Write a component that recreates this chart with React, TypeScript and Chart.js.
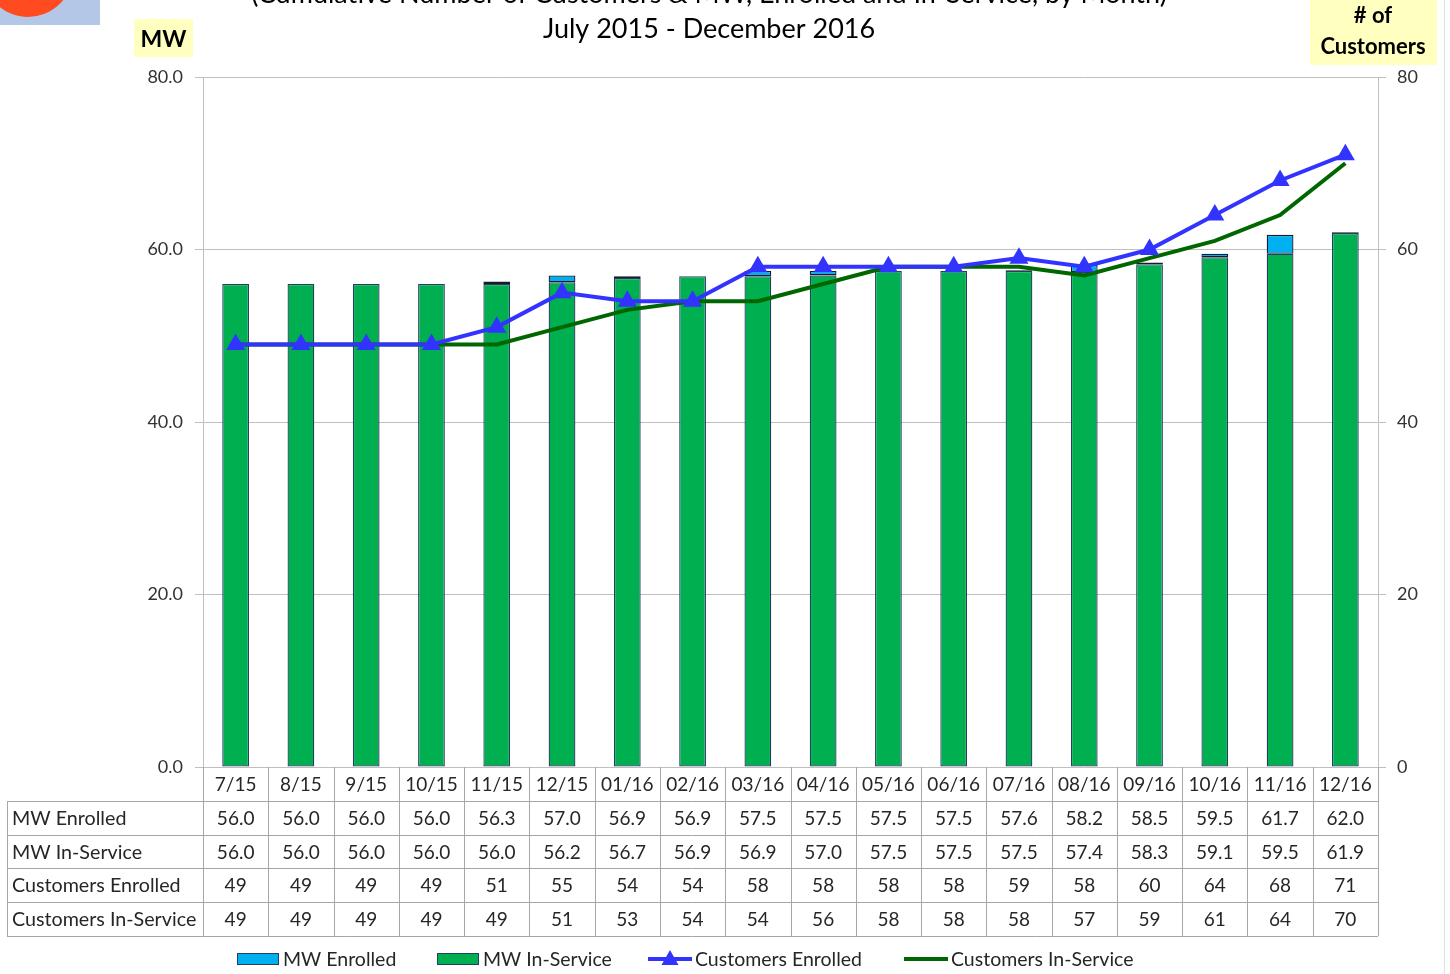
import React, { useEffect, useRef } from "react";
import { Chart, registerables } from "chart.js";

Chart.register(...registerables);

const categories = ["7/15", "8/15", "9/15", "10/15", "11/15", "12/15", "01/16", "02/16", "03/16", "04/16", "05/16", "06/16", "07/16", "08/16", "09/16", "10/16", "11/16", "12/16"];
const mwEnrolled = [56.0, 56.0, 56.0, 56.0, 56.3, 57.0, 56.9, 56.9, 57.5, 57.5, 57.5, 57.5, 57.6, 58.2, 58.5, 59.5, 61.7, 62.0];
const mwInService = [56.0, 56.0, 56.0, 56.0, 56.0, 56.2, 56.7, 56.9, 56.9, 57.0, 57.5, 57.5, 57.5, 57.4, 58.3, 59.1, 59.5, 61.9];
const customersEnrolled = [49, 49, 49, 49, 51, 55, 54, 54, 58, 58, 58, 58, 59, 58, 60, 64, 68, 71];
const customersInService = [49, 49, 49, 49, 49, 51, 53, 54, 54, 56, 58, 58, 58, 57, 59, 61, 64, 70];

const titleLine1 = "(Cumulative Number of Customers & MW, Enrolled and In-Service, by Month)";
const titleLine2 = "July 2015 - December 2016";
const leftAxisTitle = "MW";
const rightAxisTitle = ["# of", "Customers"];
const rowLabels = ["MW Enrolled", "MW In-Service", "Customers Enrolled", "Customers In-Service"];

const FONT = "Lato, 'Open Sans', sans-serif";
const CYAN = "#00B0F0";
const GREEN = "#00B050";
const BLUE = "#3333FF";
const DKGREEN = "#006600";
const BAR_BORDER = "#243F60";
const GRID = "#BFBFBF";
const TEXT = "#262626";

const decorPlugin = {
  id: "decor",
  afterDraw(chart: any) {
    const ctx = chart.ctx as CanvasRenderingContext2D;
    const x = chart.scales.x;
    const area = chart.chartArea;
    const n = categories.length;
    const colW = (area.right - area.left) / n;
    ctx.save();

    // top-left logo fragment
    ctx.fillStyle = "#B4C7E7";
    ctx.fillRect(0, 0, 100, 25);
    ctx.beginPath();
    ctx.fillStyle = "#FF4B1F";
    ctx.arc(28, -28, 45, 0, Math.PI * 2);
    ctx.fill();

    // right faint border
    ctx.strokeStyle = "#E0E0E0";
    ctx.lineWidth = 1;
    ctx.beginPath();
    ctx.moveTo(1444.5, 0);
    ctx.lineTo(1444.5, 974);
    ctx.stroke();

    // title
    ctx.fillStyle = "#000";
    ctx.textAlign = "center";
    ctx.textBaseline = "middle";
    ctx.font = `27px ${FONT}`;
    ctx.fillText(titleLine1, 709, -6);
    ctx.fillText(titleLine2, 709, 29);

    // MW box
    ctx.fillStyle = "#FFFFC0";
    ctx.fillRect(134, 19, 59, 38);
    ctx.fillStyle = "#000";
    ctx.font = `bold 23px ${FONT}`;
    ctx.fillText(leftAxisTitle, 163.5, 40);

    // # of Customers box
    ctx.fillStyle = "#FFFFC0";
    ctx.fillRect(1310, 0, 127, 65);
    ctx.fillStyle = "#000";
    ctx.font = `bold 22px ${FONT}`;
    ctx.fillText(rightAxisTitle[0], 1373, 16);
    ctx.fillText(rightAxisTitle[1], 1373, 47);

    // data table
    const tableLeft = 7;
    const rowTops = [area.bottom, 801, 835, 868, 902, 936];
    ctx.strokeStyle = "#A6A6A6";
    ctx.lineWidth = 1;
    ctx.beginPath();
    for (let r = 1; r < rowTops.length; r++) {
      ctx.moveTo(tableLeft, Math.round(rowTops[r]) + 0.5);
      ctx.lineTo(area.right, Math.round(rowTops[r]) + 0.5);
    }
    ctx.moveTo(tableLeft + 0.5, rowTops[1]);
    ctx.lineTo(tableLeft + 0.5, rowTops[5]);
    for (let i = 0; i <= n; i++) {
      const bx = Math.round(area.left + i * colW) + 0.5;
      ctx.moveTo(bx, area.bottom);
      ctx.lineTo(bx, rowTops[5]);
    }
    ctx.stroke();

    const rows = [
      mwEnrolled.map((v) => v.toFixed(1)),
      mwInService.map((v) => v.toFixed(1)),
      customersEnrolled.map((v) => String(v)),
      customersInService.map((v) => String(v)),
    ];
    ctx.fillStyle = TEXT;
    ctx.font = `19px ${FONT}`;
    ctx.textBaseline = "middle";
    ctx.textAlign = "center";
    categories.forEach((c, i) => {
      ctx.fillText(c, x.getPixelForValue(i), (rowTops[0] + rowTops[1]) / 2 + 1);
    });
    rows.forEach((row, r) => {
      const cy = (rowTops[r + 1] + rowTops[r + 2]) / 2 + 1;
      ctx.textAlign = "left";
      ctx.font = `19.7px ${FONT}`;
      ctx.fillText(rowLabels[r], 12, cy);
      ctx.textAlign = "center";
      ctx.font = `19px ${FONT}`;
      row.forEach((t, i) => ctx.fillText(t, x.getPixelForValue(i), cy));
    });

    // legend
    const ly = 959;
    ctx.textAlign = "left";
    ctx.font = `19.5px ${FONT}`;
    const box = (bx: number, color: string) => {
      ctx.fillStyle = color;
      ctx.fillRect(bx, ly - 6, 42, 12);
      ctx.strokeStyle = BAR_BORDER;
      ctx.lineWidth = 1;
      ctx.strokeRect(bx + 0.5, ly - 5.5, 41, 11);
    };
    box(237, CYAN);
    ctx.fillStyle = TEXT;
    ctx.fillText("MW Enrolled", 283, ly + 1);
    box(437, GREEN);
    ctx.fillStyle = TEXT;
    ctx.fillText("MW In-Service", 483, ly + 1);

    ctx.strokeStyle = BLUE;
    ctx.lineWidth = 4;
    ctx.beginPath();
    ctx.moveTo(648, ly);
    ctx.lineTo(692, ly);
    ctx.stroke();
    ctx.fillStyle = BLUE;
    ctx.beginPath();
    ctx.moveTo(670, ly - 9);
    ctx.lineTo(678.5, ly + 6);
    ctx.lineTo(661.5, ly + 6);
    ctx.closePath();
    ctx.fill();
    ctx.fillStyle = TEXT;
    ctx.fillText("Customers Enrolled", 695, ly + 1);

    ctx.strokeStyle = DKGREEN;
    ctx.lineWidth = 4;
    ctx.beginPath();
    ctx.moveTo(904, ly);
    ctx.lineTo(948, ly);
    ctx.stroke();
    ctx.fillStyle = TEXT;
    ctx.fillText("Customers In-Service", 951, ly + 1);

    ctx.restore();
  },
};

export default function App() {
  const ref = useRef<HTMLCanvasElement | null>(null);
  useEffect(() => {
    if (!ref.current) return;
    const chart = new Chart(ref.current, {
      type: "bar",
      data: {
        labels: categories,
        datasets: [
          {
            type: "line",
            label: "Customers Enrolled",
            data: customersEnrolled,
            yAxisID: "y1",
            borderColor: BLUE,
            backgroundColor: BLUE,
            borderWidth: 4,
            pointStyle: "triangle",
            pointRadius: 11,
            pointBorderWidth: 0,
            tension: 0,
            order: 0,
          },
          {
            type: "line",
            label: "Customers In-Service",
            data: customersInService,
            yAxisID: "y1",
            borderColor: DKGREEN,
            backgroundColor: DKGREEN,
            borderWidth: 4,
            pointRadius: 0,
            tension: 0,
            order: 1,
          },
          {
            type: "bar",
            label: "MW In-Service",
            data: mwInService,
            yAxisID: "y",
            backgroundColor: GREEN,
            borderColor: BAR_BORDER,
            borderWidth: 1.3,
            borderSkipped: false,
            grouped: false,
            barPercentage: 0.41,
            categoryPercentage: 1,
            order: 2,
          },
          {
            type: "bar",
            label: "MW Enrolled",
            data: mwEnrolled.map((v, i) => [mwInService[i], v]),
            yAxisID: "y",
            backgroundColor: CYAN,
            borderColor: "#1A1A2E",
            borderWidth: 1.3,
            borderSkipped: false,
            grouped: false,
            barPercentage: 0.41,
            categoryPercentage: 1,
            order: 3,
          },
        ] as any,
      },
      options: {
        responsive: false,
        animation: false,
        layout: { padding: { top: 77, bottom: 207, left: 0, right: 0 } },
        plugins: { legend: { display: false }, tooltip: { enabled: false }, title: { display: false } },
        scales: {
          x: { display: false },
          y: {
            position: "left",
            min: 0,
            max: 80,
            ticks: {
              stepSize: 20,
              padding: 12,
              color: "#333333",
              font: { family: FONT, size: 18 },
              callback: (v: any) => Number(v).toFixed(1),
            },
            grid: { color: GRID, lineWidth: 1, tickLength: 8, drawTicks: true },
            border: { display: true, color: GRID, width: 1 },
            afterFit: (s: any) => {
              s.width = 203;
            },
          },
          y1: {
            position: "right",
            min: 0,
            max: 80,
            ticks: {
              stepSize: 20,
              padding: 11,
              color: "#333333",
              font: { family: FONT, size: 18 },
            },
            grid: { drawOnChartArea: false, color: GRID, tickLength: 8, drawTicks: true },
            border: { display: true, color: GRID, width: 1 },
            afterFit: (s: any) => {
              s.width = 72;
            },
          },
        },
      },
      plugins: [decorPlugin],
    });
    return () => chart.destroy();
  }, []);
  return (
    <div style={{ position: "fixed", left: 0, top: 0, width: 1450, height: 974, background: "#fff" }}>
      <canvas ref={ref} width={1450} height={974} style={{ display: "block", width: 1450, height: 974 }} />
    </div>
  );
}
